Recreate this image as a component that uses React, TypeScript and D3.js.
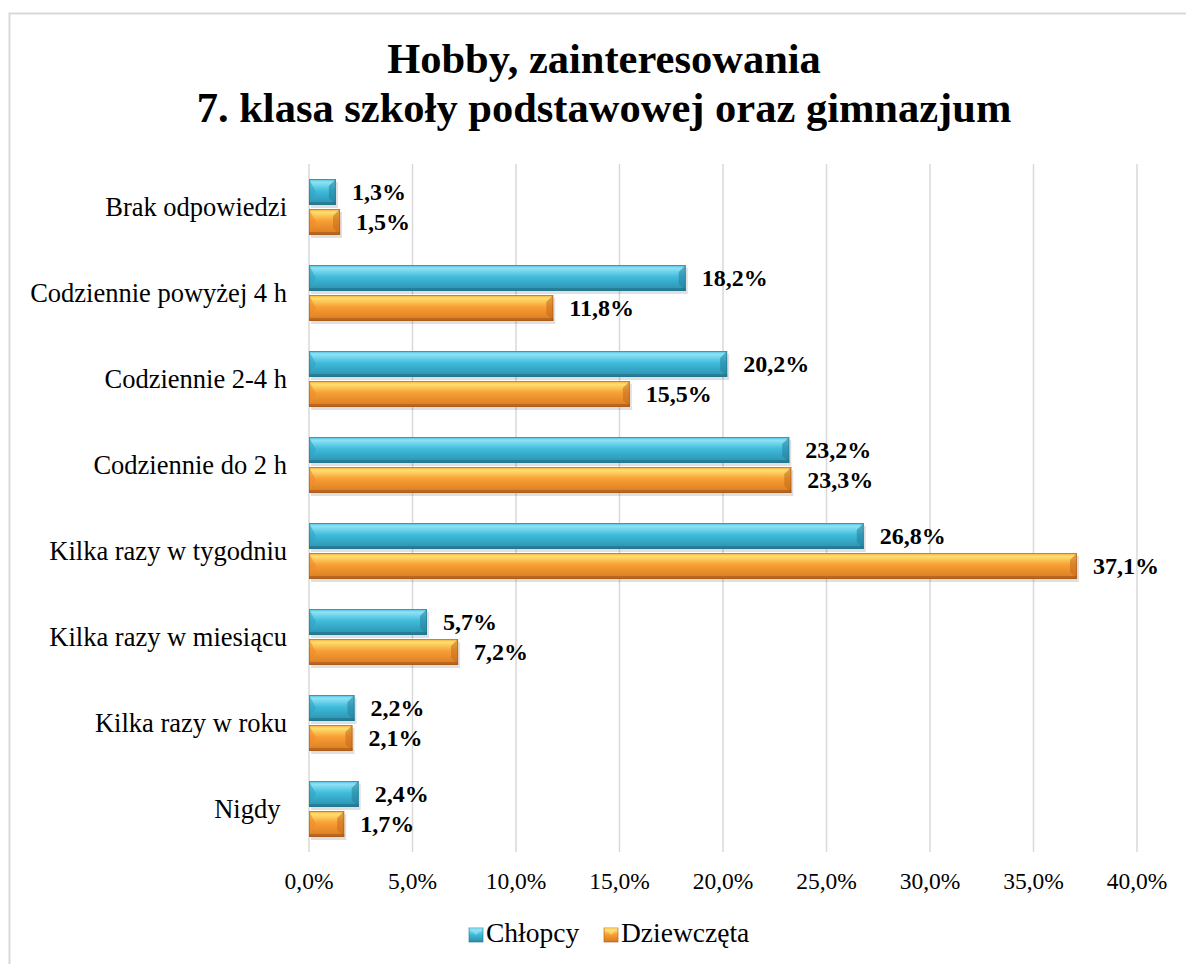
import React from "react";
import * as d3 from "d3";

const categories = [
  "Brak odpowiedzi",
  "Codziennie powyżej 4 h",
  "Codziennie 2-4 h",
  "Codziennie do 2 h",
  "Kilka razy w tygodniu",
  "Kilka razy w miesiącu",
  "Kilka razy w roku",
  "Nigdy ",
];
const boys = [1.3, 18.2, 20.2, 23.2, 26.8, 5.7, 2.2, 2.4];
const girls = [1.5, 11.8, 15.5, 23.3, 37.1, 7.2, 2.1, 1.7];
const seriesNames = ["Chłopcy", "Dziewczęta"];
const ticks = [0, 5, 10, 15, 20, 25, 30, 35, 40];
const titleLines = ["Hobby, zainteresowania", "7. klasa szkoły podstawowej oraz gimnazjum"];

const W = 1186;
const H = 964;
const FONT = "'Liberation Serif', 'Times New Roman', serif";

const fmt = (v: number) => v.toFixed(1).replace(".", ",") + "%";

const palettes = [
  { top: "#8fe3f5", mid: "#41bcdc", bot: "#2a8eab", edge: "#1f6f86", bevelL: "#2ea3c2", bevelR: "#237f99" },
  { top: "#ffe070", mid: "#f7a035", bot: "#d9791f", edge: "#a3561a", bevelL: "#f08a2a", bevelR: "#c4691b" },
];

function Bar({ x0, x1, y, h, si }: { x0: number; x1: number; y: number; h: number; si: number }) {
  const p = palettes[si];
  const w = x1 - x0;
  const b = Math.min(7, w / 3);
  return (
    <g>
      <rect x={x0 + 2} y={y + 3} width={w} height={h} fill="#000" opacity={0.12} />
      <rect x={x0} y={y} width={w} height={h} fill={`url(#grad${si})`} />
      <polygon points={`${x0},${y} ${x0 + b},${y + h / 2} ${x0},${y + h}`} fill={p.bevelL} opacity={0.6} />
      <polygon points={`${x1},${y} ${x1 - b},${y + b} ${x1 - b},${y + h - b} ${x1},${y + h}`} fill={p.bevelR} opacity={0.55} />
      <rect x={x0} y={y + h - 3} width={w} height={3} fill={p.edge} opacity={0.6} />
      <rect x={x0 + 0.5} y={y + 0.5} width={w - 1} height={h - 1} fill="none" stroke={p.edge} strokeOpacity={0.5} />
    </g>
  );
}

export default function App() {
  const x = d3.scaleLinear().domain([0, 40]).range([309, 1137]);
  const y = d3.scaleBand<string>().domain(categories).range([164, 852]);
  const barH = 26;
  const gap = 4;
  const series = [boys, girls];

  return (
    <div style={{ position: "absolute", left: 0, top: 0 }}>
      <svg width={W} height={H} style={{ display: "block", background: "#fff" }} fontFamily={FONT}>
        <defs>
          {palettes.map((p, i) => (
            <linearGradient key={i} id={`grad${i}`} x1="0" y1="0" x2="0" y2="1">
              <stop offset="0" stopColor={p.mid} />
              <stop offset="0.12" stopColor={p.top} />
              <stop offset="0.45" stopColor={p.mid} />
              <stop offset="1" stopColor={p.bot} />
            </linearGradient>
          ))}
        </defs>
        <rect x={9.5} y={13.5} width={W} height={H} fill="#fff" stroke="#d9d9d9" strokeWidth={2} />

        {titleLines.map((t, i) => (
          <text key={i} x={604} y={73 + i * 49} textAnchor="middle" fontSize={42.5} fontWeight="bold" fill="#000">
            {t}
          </text>
        ))}

        {ticks.map((t) => (
          <g key={t}>
            <line x1={x(t)} x2={x(t)} y1={164} y2={852} stroke="#d9d9d9" strokeWidth={1.5} />
            <text x={x(t)} y={889} textAnchor="middle" fontSize={23.5} fill="#000">
              {fmt(t)}
            </text>
          </g>
        ))}

        {categories.map((c, ci) => {
          const center = (y(c) as number) + y.bandwidth() / 2;
          return (
            <g key={c}>
              <text x={287} y={center} dy="0.33em" textAnchor="end" fontSize={26.5} fill="#000" style={{ whiteSpace: "pre" }}>
                {c}
              </text>
              {series.map((s, si) => {
                const top = center - barH - gap / 2 + si * (barH + gap);
                const v = s[ci];
                return (
                  <g key={si}>
                    <Bar x0={x(0)} x1={x(v)} y={top} h={barH} si={si} />
                    <text x={x(v) + 16} y={top + barH / 2} dy="0.35em" fontSize={24} fontWeight="bold" fill="#000">
                      {fmt(v)}
                    </text>
                  </g>
                );
              })}
            </g>
          );
        })}

        {seriesNames.map((n, i) => {
          const lx = i === 0 ? 469 : 604;
          return (
            <g key={n}>
              <rect x={lx} y={928} width={14} height={14} fill={`url(#grad${i})`} stroke={palettes[i].edge} strokeOpacity={0.6} />
              <polygon points={`${lx},${928} ${lx + 7},${935} ${lx + 14},${928}`} fill={palettes[i].top} opacity={0.7} />
              <text x={lx + 17} y={942} fontSize={27.5} fill="#000">
                {n}
              </text>
            </g>
          );
        })}
      </svg>
    </div>
  );
}
